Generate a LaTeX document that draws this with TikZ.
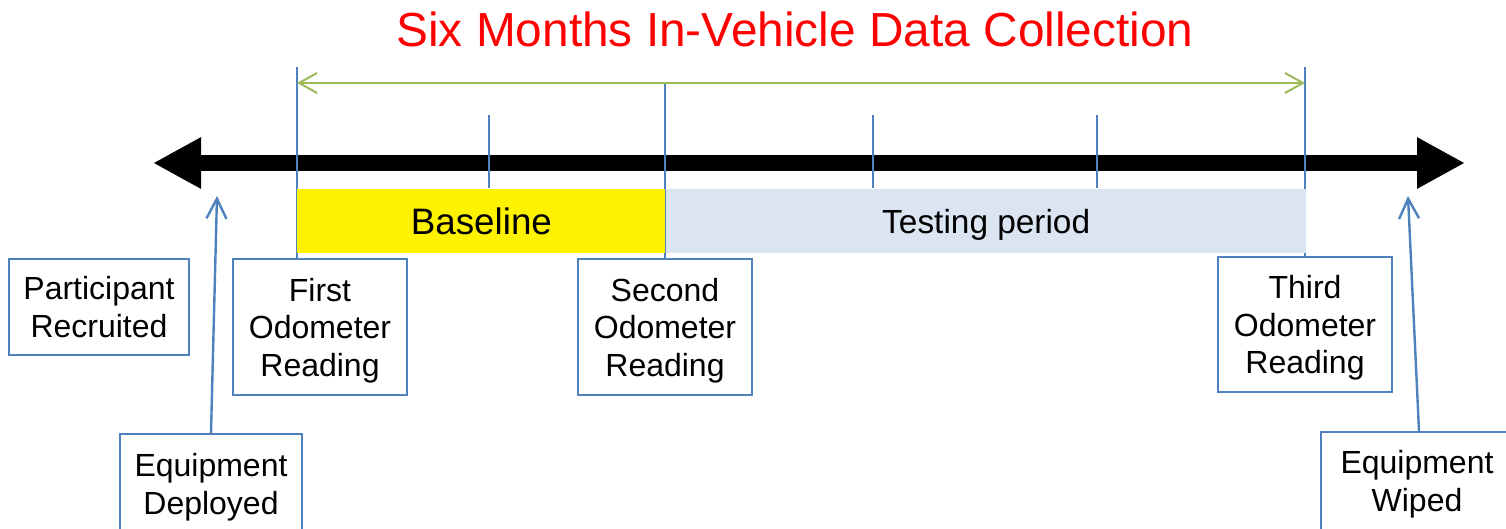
\documentclass[tikz,border=0pt]{standalone}
\usepackage{fontspec}
\setmainfont{Liberation Sans}
\usetikzlibrary{arrows.meta,positioning}
\definecolor{lineblue}{HTML}{4F81BD}
\definecolor{spangreen}{HTML}{9BBB59}
\definecolor{testblue}{HTML}{DBE5F1}
\tikzset{event/.style={draw=lineblue, line width=1.2pt, fill=white, align=center,
    inner sep=0pt, text depth=0pt, font=\fontsize{16}{18.75}\selectfont},
  pinline/.style={lineblue, line width=1pt},
  period/.style={inner sep=0pt, text depth=0pt, minimum height=32pt}
}
\begin{document}
\begin{tikzpicture}[x=0.5pt, y=-0.5pt]
        \useasboundingbox (0,0) rectangle (1506,529);
        \node[red, anchor=base, font=\fontsize{23.9}{28}\selectfont] (title) at (795,47)
            {Six Months In-Vehicle Data Collection};

        % time line
        \coordinate (tl) at (153,163);
        \coordinate (tr) at (1465,163);
        \draw[line width=8pt, {Triangle[length=24pt,width=24pt]}-{Triangle[length=24pt,width=24pt]}] (tl) -- (tr);

        \node[event, minimum width=90pt, minimum height=48pt]   (recruit)  at (99,307)   {Participant\\Recruited};
        \node[event, minimum width=87pt, minimum height=68pt]   (first)    at (320,327)  {First\\Odometer\\Reading};
        \node[event, minimum width=87pt, minimum height=68pt]   (second)   at (665,327)  {Second\\Odometer\\Reading};
        \node[event, minimum width=87pt, minimum height=67.5pt] (third)    at (1305,324.5) {Third\\Odometer\\Reading};
        \node[event, minimum width=91pt, minimum height=50pt]   (deployed) at (211,484)  {Equipment\\Deployed};
        \node[event, minimum width=96pt, minimum height=49pt]   (wiped)    at (1417,481) {Equipment\\Wiped};

        \coordinate (s1) at (297,67);
        \coordinate (s2) at (665,83);
        \coordinate (s3) at (1305,67);
        \draw[pinline] (s1) -- (s1 |- first.north);
        \draw[pinline] (s2) -- (s2 |- second.north);
        \draw[pinline] (s3) -- (s3 |- third.north);
        \foreach \x in {489,873,1097}
            \draw[pinline] (\x,115) -- (\x,188);

        \draw[spangreen, line width=1pt, {Straight Barb[length=9pt,width=10pt]}-{Straight Barb[length=9pt,width=10pt]}]
            (s1 |- s2) -- (s3 |- s2);

        \node[period, fill=yellow, minimum width=184pt, anchor=north west,
              font=\fontsize{18.4}{22}\selectfont] (base) at (297,189) {Baseline};
        \node[period, fill=testblue, minimum width=320pt, right=0pt of base,
              font=\fontsize{16.7}{20}\selectfont] (testing) {Testing period};

        \coordinate (tipl) at (217,196);
        \coordinate (tipr) at (1408,196);
        \draw[pinline, line width=1.2pt, -{Straight Barb[length=10pt,width=10pt]}] (deployed.north) -- (tipl);
        \draw[pinline, line width=1.2pt, -{Straight Barb[length=10pt,width=10pt]}] ([xshift=1pt]wiped.north) -- (tipr);
      \end{tikzpicture}
\end{document}
